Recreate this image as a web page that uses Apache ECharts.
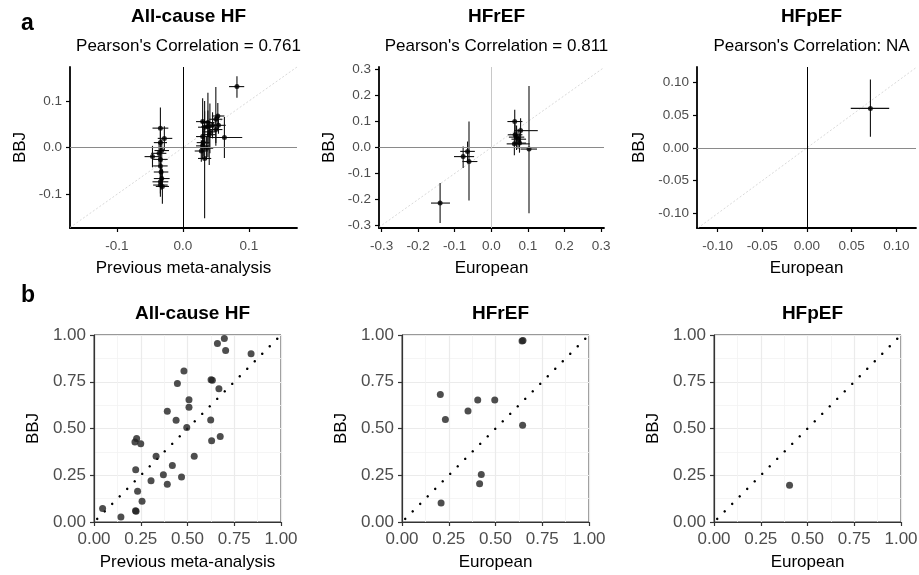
<!DOCTYPE html>
<html>
<head>
<meta charset="utf-8">
<script src="https://cdn.jsdelivr.net/npm/echarts@6/dist/echarts.min.js"></script>
<style>
  html, body { margin: 0; padding: 0; background: #fff; }
  #chart { width: 919px; height: 575px; }
</style>
</head>
<body>
<div id="chart"></div>
<script>
var panelTitles = ['All-cause HF', 'HFrEF', 'HFpEF'];
var corrLabels = ["Pearson's Correlation = 0.761", "Pearson's Correlation = 0.811", "Pearson's Correlation: NA"];
var xNames = ['Previous meta-analysis', 'European', 'European'];

// effect sizes: [x, y, xLow, xHigh, yLow, yHigh]
var allCauseEffects = [
  [-0.034, 0.042, -0.046, -0.022, -0.001, 0.086],
  [-0.028, 0.020, -0.038, -0.016, -0.006, 0.046],
  [-0.034, 0.011, -0.044, -0.024, -0.015, 0.037],
  [-0.046, -0.019, -0.058, -0.035, -0.042, 0.004],
  [-0.032, -0.006, -0.043, -0.021, -0.030, 0.018],
  [-0.034, -0.025, -0.045, -0.023, -0.048, -0.002],
  [-0.034, -0.039, -0.045, -0.023, -0.062, -0.016],
  [-0.033, -0.052, -0.044, -0.022, -0.075, -0.029],
  [-0.032, -0.066, -0.044, -0.020, -0.090, -0.042],
  [-0.034, -0.073, -0.046, -0.022, -0.098, -0.048],
  [-0.034, -0.080, -0.045, -0.023, -0.105, -0.056],
  [-0.031, -0.083, -0.041, -0.021, -0.120, -0.046],
  [-0.036, -0.012, -0.048, -0.025, -0.035, 0.011],
  [0.082, 0.131, 0.070, 0.093, 0.107, 0.153],
  [0.053, 0.068, 0.044, 0.063, 0.040, 0.096],
  [0.050, 0.061, 0.040, 0.060, 0.004, 0.130],
  [0.030, 0.056, 0.020, 0.040, 0.000, 0.106],
  [0.038, 0.054, 0.028, 0.048, -0.020, 0.118],
  [0.033, 0.044, 0.023, 0.043, 0.010, 0.078],
  [0.041, 0.034, 0.031, 0.051, -0.012, 0.095],
  [0.050, 0.039, 0.040, 0.060, 0.010, 0.068],
  [0.063, 0.022, 0.040, 0.090, -0.022, 0.066],
  [0.030, 0.024, 0.020, 0.040, -0.005, 0.053],
  [0.031, 0.011, 0.021, 0.041, -0.018, 0.040],
  [0.030, 0.004, 0.020, 0.040, -0.022, 0.030],
  [0.028, -0.007, 0.018, 0.038, -0.030, 0.016],
  [0.033, -0.023, 0.023, 0.043, -0.151, 0.100],
  [0.045, 0.048, 0.035, 0.055, 0.020, 0.076],
  [0.054, 0.048, 0.044, 0.065, 0.030, 0.066],
  [0.040, 0.028, 0.030, 0.050, -0.037, 0.057],
  [0.036, -0.001, 0.026, 0.046, -0.025, 0.023],
  [0.038, 0.045, 0.028, 0.048, 0.008, 0.080]
];
var hfrefEffects = [
  [-0.140, -0.214, -0.165, -0.113, -0.291, -0.137],
  [-0.077, -0.035, -0.102, -0.047, -0.079, 0.004],
  [-0.065, -0.015, -0.085, -0.045, -0.060, 0.023],
  [-0.061, -0.054, -0.079, -0.038, -0.204, 0.100],
  [0.064, 0.100, 0.044, 0.085, 0.049, 0.145],
  [0.080, 0.065, 0.062, 0.127, 0.017, 0.113],
  [0.065, 0.049, 0.045, 0.085, 0.010, 0.090],
  [0.069, 0.040, 0.048, 0.090, -0.010, 0.085],
  [0.073, 0.032, 0.055, 0.095, -0.005, 0.070],
  [0.063, 0.014, 0.042, 0.105, -0.030, 0.058],
  [0.077, 0.017, 0.060, 0.095, -0.020, 0.055],
  [0.103, -0.006, 0.080, 0.125, -0.253, 0.237]
];
var hfpefEffects = [
  [0.071, 0.060, 0.049, 0.092, 0.017, 0.104]
];

// p-value comparison: [x, y]
var allCauseP = [
  [0.046, 0.072], [0.144, 0.027], [0.225, 0.057], [0.222, 0.060], [0.233, 0.164],
  [0.257, 0.111], [0.223, 0.280], [0.305, 0.221], [0.228, 0.446], [0.219, 0.428],
  [0.250, 0.419], [0.332, 0.351], [0.371, 0.253], [0.392, 0.202], [0.419, 0.302],
  [0.392, 0.592], [0.439, 0.544], [0.446, 0.740], [0.481, 0.808], [0.508, 0.654],
  [0.508, 0.613], [0.496, 0.505], [0.468, 0.241], [0.536, 0.351], [0.626, 0.761],
  [0.633, 0.758], [0.668, 0.713], [0.624, 0.545], [0.629, 0.435], [0.675, 0.457],
  [0.660, 0.954], [0.697, 0.981], [0.704, 0.917], [0.840, 0.900]
];
var hfrefP = [
  [0.205, 0.682], [0.232, 0.548], [0.353, 0.593], [0.405, 0.652], [0.496, 0.652],
  [0.642, 0.968], [0.647, 0.971], [0.645, 0.518], [0.424, 0.254], [0.415, 0.204],
  [0.209, 0.102]
];
var hfpefP = [
  [0.404, 0.196]
];

var effectTicks = [
  [-0.1, 0, 0.1],
  [-0.3, -0.2, -0.1, 0, 0.1, 0.2, 0.3],
  [-0.1, -0.05, 0, 0.05, 0.1]
];
var effectDigits = [1, 1, 2];
var effectXRange = [[-0.171, 0.173], [-0.307, 0.308], [-0.123, 0.122]];
var effectYRange = [[-0.172, 0.173], [-0.310, 0.310], [-0.122, 0.123]];

var effects = [allCauseEffects, hfrefEffects, hfpefEffects];
var pvals = [allCauseP, hfrefP, hfpefP];

var font = 'Liberation Sans';
var topGrids = [
  {left: 70, top: 67, width: 227, height: 161},
  {left: 379, top: 67, width: 225, height: 161},
  {left: 697, top: 67, width: 219, height: 161}
];
var bottomGrids = [
  {left: 94, top: 335, width: 187, height: 187},
  {left: 402, top: 335, width: 187, height: 187},
  {left: 714, top: 335, width: 187, height: 187}
];
var topYNameGap = [41, 41, 49];
var vzeroColor = ['#000', '#c8c8c8', '#000'];

function errorBars(params, api) {
  var xl = api.coord([api.value(2), api.value(1)]);
  var xh = api.coord([api.value(3), api.value(1)]);
  var yl = api.coord([api.value(0), api.value(4)]);
  var yh = api.coord([api.value(0), api.value(5)]);
  return {
    type: 'group',
    children: [
      {type: 'line', shape: {x1: xl[0], y1: xl[1], x2: xh[0], y2: xh[1]}, style: {stroke: '#111', lineWidth: 1.1}},
      {type: 'line', shape: {x1: yl[0], y1: yl[1], x2: yh[0], y2: yh[1]}, style: {stroke: '#111', lineWidth: 1.1}}
    ]
  };
}

var grids = [], xAxes = [], yAxes = [], series = [], titles = [];

titles.push({text: 'a', left: 16, top: 7, textStyle: {fontFamily: font, fontSize: 23, fontWeight: 'bold', color: '#000'}});
titles.push({text: 'b', left: 16, top: 279, textStyle: {fontFamily: font, fontSize: 23, fontWeight: 'bold', color: '#000'}});

// row a
for (var i = 0; i < 3; i++) {
  var g = topGrids[i];
  grids.push(Object.assign({outerBoundsMode: 'none', containLabel: false}, g));
  var cx = g.left + g.width / 2;
  titles.push({text: panelTitles[i], left: cx, top: 2, textAlign: 'center',
    textStyle: {fontFamily: font, fontSize: 19, fontWeight: 'bold', color: '#000'}});
  titles.push({text: corrLabels[i], left: cx, top: 33, textAlign: 'center',
    textStyle: {fontFamily: font, fontSize: 17, fontWeight: 'normal', color: '#000'}});

  (function (digits, ticks) {
    var fmt = function (v) { return v.toFixed(digits); };
    xAxes.push({
      gridIndex: i, type: 'value', min: effectXRange[i][0], max: effectXRange[i][1],
      name: xNames[i], nameLocation: 'middle', nameGap: 32,
      nameTextStyle: {fontFamily: font, fontSize: 17, color: '#000'},
      axisLine: {show: true, onZero: false, lineStyle: {color: '#000', width: 1.8}},
      axisTick: {show: true, length: 4, customValues: ticks, lineStyle: {color: '#000', width: 1.2}},
      axisLabel: {customValues: ticks, formatter: fmt, fontFamily: font, fontSize: 13.5, color: '#4d4d4d', margin: 11},
      splitLine: {show: false}
    });
    yAxes.push({
      gridIndex: i, type: 'value', min: effectYRange[i][0], max: effectYRange[i][1],
      name: 'BBJ', nameLocation: 'middle', nameGap: topYNameGap[i], nameRotate: 90,
      nameTextStyle: {fontFamily: font, fontSize: 17, color: '#000'},
      axisLine: {show: true, onZero: false, lineStyle: {color: '#000', width: 1.8}},
      axisTick: {show: true, length: 4, customValues: ticks, lineStyle: {color: '#000', width: 1.2}},
      axisLabel: {customValues: ticks, formatter: fmt, fontFamily: font, fontSize: 13.5, color: '#4d4d4d', margin: 8},
      splitLine: {show: false}
    });
  })(effectDigits[i], effectTicks[i]);

  var lo = Math.max(effectXRange[i][0], effectYRange[i][0]);
  var hi = Math.min(effectXRange[i][1], effectYRange[i][1]);
  series.push({
    type: 'line', xAxisIndex: i, yAxisIndex: i, data: [[lo, lo], [hi, hi]],
    symbol: 'none', silent: true, z: 1,
    lineStyle: {color: '#cfcfcf', width: 0.8, type: [2, 2]},
    markLine: {
      silent: true, symbol: 'none', label: {show: false}, animation: false,
      data: [
        {yAxis: 0, lineStyle: {color: '#8a8a8a', width: 1, type: 'solid'}},
        {xAxis: 0, lineStyle: {color: vzeroColor[i], width: 1, type: 'solid'}}
      ]
    }
  });
  series.push({
    type: 'custom', xAxisIndex: i, yAxisIndex: i, renderItem: errorBars,
    data: effects[i], encode: {x: 0, y: 1}, silent: true, z: 3
  });
  series.push({
    type: 'scatter', xAxisIndex: i, yAxisIndex: i, symbolSize: 5,
    data: effects[i].map(function (r) { return [r[0], r[1]]; }),
    itemStyle: {color: '#000'}, silent: true, z: 4
  });
}

// row b
for (var j = 0; j < 3; j++) {
  var gb = bottomGrids[j];
  var k = j + 3;
  grids.push(Object.assign({outerBoundsMode: 'none', containLabel: false, show: true, borderColor: '#333', borderWidth: 1}, gb));
  titles.push({text: panelTitles[j], left: gb.left + gb.width / 2, top: 299, textAlign: 'center',
    textStyle: {fontFamily: font, fontSize: 19, fontWeight: 'bold', color: '#000'}});
  var fmt2 = function (v) { return v.toFixed(2); };
  var axisCommon = {
    gridIndex: k, type: 'value', min: 0, max: 1, interval: 0.25,
    nameLocation: 'middle',
    nameTextStyle: {fontFamily: font, fontSize: 17, color: '#000'},
    axisLine: {show: true, onZero: false, lineStyle: {color: '#333', width: 1.2}},
    axisTick: {show: true, length: 4, lineStyle: {color: '#333', width: 1.2}},
    axisLabel: {formatter: fmt2, fontFamily: font, fontSize: 17, color: '#4d4d4d', margin: 8},
    splitLine: {show: true, lineStyle: {color: '#ebebeb', width: 1.2}},
    minorTick: {show: false, splitNumber: 2},
    minorSplitLine: {show: true, lineStyle: {color: '#f2f2f2', width: 0.8}}
  };
  xAxes.push(Object.assign({}, axisCommon, {name: xNames[j], nameGap: 32,
    axisLabel: Object.assign({}, axisCommon.axisLabel, {margin: 9})}));
  yAxes.push(Object.assign({}, axisCommon, {name: 'BBJ', nameGap: 52, nameRotate: 90}));

  series.push({
    type: 'line', xAxisIndex: k, yAxisIndex: k, data: [[0, 0], [1, 1]],
    symbol: 'none', silent: true, z: 2,
    lineStyle: {color: '#000', width: 2.5, type: [0.01, 10.6], cap: 'round', dashOffset: 6.1}
  });
  series.push({
    type: 'scatter', xAxisIndex: k, yAxisIndex: k, symbolSize: 7,
    data: pvals[j], itemStyle: {color: '#222'}, silent: true, z: 4
  });
}

var chart = echarts.init(document.getElementById('chart'), null, {renderer: 'canvas'});
chart.setOption({
  animation: false,
  backgroundColor: '#fff',
  textStyle: {fontFamily: font},
  title: titles,
  grid: grids,
  xAxis: xAxes,
  yAxis: yAxes,
  series: series
});
</script>
</body>
</html>
